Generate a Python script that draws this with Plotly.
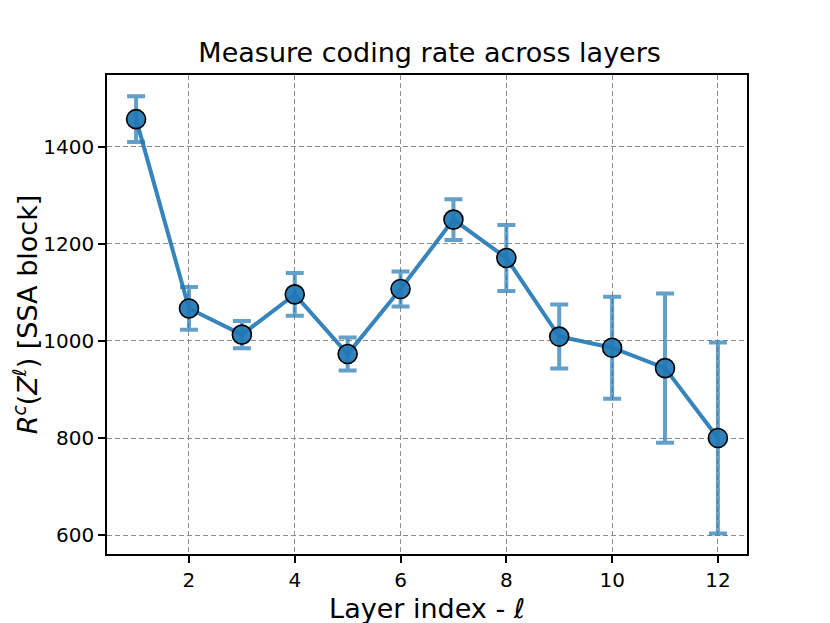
import plotly.graph_objects as go

layers = [1, 2, 3, 4, 5, 6, 7, 8, 9, 10, 11, 12]
rate_mean = [1457, 1067, 1013, 1096, 973, 1107, 1250, 1171, 1009, 986, 944, 800]
rate_std = [47, 44, 28, 44, 34, 36, 42, 68, 66, 105, 154, 197]

x_ticks = [2, 4, 6, 8, 10, 12]
y_ticks = [600, 800, 1000, 1200, 1400]

fig = go.Figure()
fig.add_trace(go.Scatter(
    x=layers, y=rate_mean,
    mode='lines+markers',
    line=dict(color='rgba(31,119,180,0.9)', width=4),
    marker=dict(size=19, color='rgba(31,119,180,0.92)',
                line=dict(color='black', width=1.6)),
    error_y=dict(type='data', array=rate_std, visible=True,
                 color='rgba(31,119,180,0.7)', thickness=4, width=9),
    showlegend=False
))

axis_style = dict(
    showline=True, linecolor='black', linewidth=1.5, mirror=True,
    ticks='outside', ticklen=7, tickwidth=1.5, tickcolor='black',
    showgrid=True, gridcolor='#8c8c8c', gridwidth=1.3, griddash='5px,3px',
    zeroline=False,
    tickfont=dict(family='DejaVu Sans', size=20, color='black'),
)

fig.update_layout(
    width=830, height=623,
    paper_bgcolor='white', plot_bgcolor='white',
    margin=dict(l=95, r=91, t=67, b=77),
    title=dict(text='Measure coding rate across layers', x=0.508, xanchor='center',
               y=0.928, yanchor='middle',
               font=dict(family='DejaVu Sans', size=27, color='black')),
    xaxis=dict(axis_style, range=[0.45, 12.55], tickvals=x_ticks,
               title=dict(text='Layer index - <i>ℓ</i>', standoff=8,
                          font=dict(family='DejaVu Sans', size=27, color='black'))),
    yaxis=dict(axis_style, range=[561, 1548], tickvals=y_ticks,
               title=dict(text='<i>R</i><sup><i>c</i></sup>(<i>Z</i><sup><i>ℓ</i></sup>) [SSA block]',
                          standoff=4,
                          font=dict(family='DejaVu Sans', size=27, color='black'))),
)

fig.write_html("out.html")
